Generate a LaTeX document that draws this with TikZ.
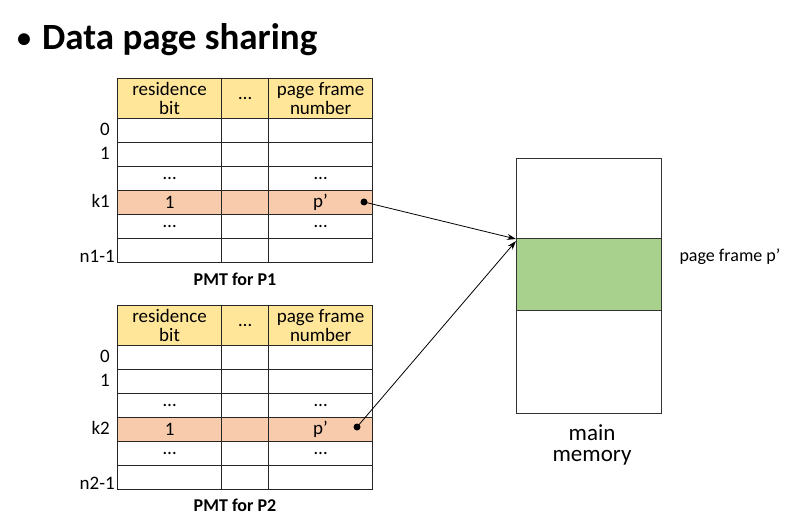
\documentclass[tikz,border=0pt]{standalone}
\usepackage{fontspec}
\setmainfont{Carlito}
\usetikzlibrary{positioning, arrows.meta}
\definecolor{headyellow}{HTML}{FFE699}
\definecolor{rowpeach}{HTML}{F8CBAD}
\definecolor{framegreen}{HTML}{A9D18E}
\tikzset{
    cell/.style={draw=black!85, line width=1.2pt, inner sep=0pt, anchor=north west,
        minimum height=24pt, align=center, font=\fontsize{19}{19}\selectfont},
    head/.style={cell, fill=headyellow, minimum height=40pt},
    rowlabel/.style={anchor=east, inner sep=0pt, font=\fontsize{19}{19}\selectfont},
    caption/.style={font=\bfseries\fontsize{18}{18}\selectfont},
    memcell/.style={draw=black!80, line width=1pt, inner sep=0pt, anchor=north west, minimum width=145pt},
    dot/.style={circle, fill=black, inner sep=0pt, minimum size=7pt},
    pointer/.style={-{Stealth[length=9pt, width=6pt]}, line width=0.8pt}
}

\begin{document}
\begin{tikzpicture}[x=1pt, y=-1pt]
    \useasboundingbox (0,0) rectangle (812,524);

    \node[anchor=base west, inner sep=0pt, font=\bfseries\fontsize{37}{38}\selectfont] (title) at (17,50)
        {\raisebox{2pt}{\fontsize{28}{28}\selectfont•}\hspace{11pt}Data page sharing};

    % the two page map tables
    \foreach \t/\T in {1/78, 2/305} {
        \node[head, minimum width=104pt] (h\t a) at (117,\T) {residence\\bit};
        \node[head, minimum width=47pt] (h\t b) at (221,\T) {…};
        \node[head, minimum width=104pt] (h\t c) at (268,\T) {page frame\\number};
        \foreach \r/\lab/\ca/\cc/\fc in {0/0/{}/{}/white, 1/1/{}/{}/white, 2/{}/…/…/white,
                3/k\t/1/p’/rowpeach, 4/{}/…/…/white, 5/{}/{}/{}/white} {
            \node[cell, fill=\fc, minimum width=104pt] (r\t-\r-a) at (117,{\T+40+24*\r}) {\ca};
            \node[cell, fill=\fc, minimum width=47pt] (r\t-\r-b) at (221,{\T+40+24*\r}) {};
            \node[cell, fill=\fc, minimum width=104pt] (r\t-\r-c) at (268,{\T+40+24*\r}) {\cc};
            \node[rowlabel] (l\t-\r) at (110,{\T+40+24*\r+11}) {\lab};
        }
        \node[rowlabel] (last\t) at (115,{\T+40+24*5+18}) {n\t-1};
    }
    \node[caption] (cap1) at (235,279) {PMT for P1};
    \node[caption] (cap2) at (235,505) {PMT for P2};

    % main memory
    \node[memcell, minimum height=255pt] (mem) at (516,158) {};
    \node[memcell, fill=framegreen, minimum height=72pt] (frame) at (516,238) {};
    \node[anchor=west, font=\fontsize{18}{18}\selectfont] (framelabel) at (676,257) {page frame p’};
    \node[align=center, font=\fontsize{23}{21}\selectfont] (memlabel) at (592,445) {main\\memory};

    \node[dot] (p1) at (364,202) {};
    \node[dot] (p2) at (357,427) {};
    \draw[pointer] (p1.center) -- ([yshift=-1pt]frame.north west);
    \draw[pointer] (p2.center) -- ([yshift=-3pt]frame.north west);
\end{tikzpicture}
\end{document}
